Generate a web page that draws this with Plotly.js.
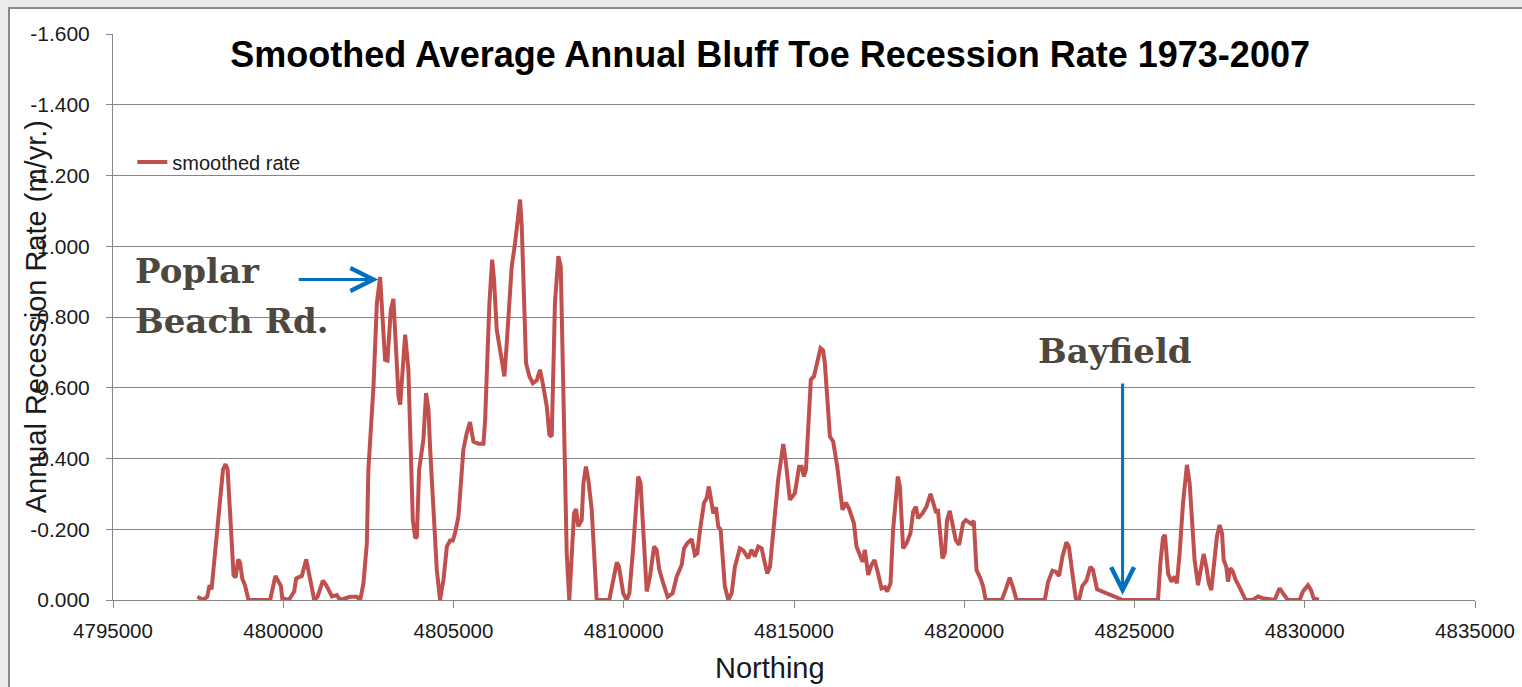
<!DOCTYPE html>
<html>
<head>
<meta charset="utf-8">
<script src="https://cdn.plot.ly/plotly-3.0.1.min.js"></script>
<style>
  html, body { margin:0; padding:0; width:1522px; height:687px; overflow:hidden; background:#ebebeb; }
  #frame { position:absolute; left:8px; top:7px; width:1600px; height:720px; background:#ffffff;
           border-left:2px solid #8a8a8a; border-top:2px solid #8a8a8a; }
  #chart { position:absolute; left:0; top:0; width:1522px; height:687px; }
</style>
</head>
<body>
<div id="frame"></div>
<div id="chart"></div>
<script>
// Northing (m) of each smoothed point
const northing = [
 4797480, 4797660, 4797770, 4797835, 4797895, 4798150, 4798230, 4798305, 4798365, 4798445,
 4798540, 4798600, 4798680, 4798735, 4798795, 4798875, 4798980, 4799615, 4799770, 4799930,
 4799970, 4800165, 4800320, 4800380, 4800545, 4800675, 4800770, 4800910, 4801005, 4801165,
 4801260, 4801430, 4801575, 4801670, 4801965, 4802160, 4802260, 4802355, 4802455, 4802500,
 4802650, 4802750, 4802845, 4802925, 4802990, 4803060, 4803160, 4803235, 4803315, 4803385,
 4803435, 4803480, 4803580, 4803675, 4803745, 4803805, 4803875, 4803925, 4803990, 4804115,
 4804195, 4804265, 4804315, 4804410, 4804510, 4804605, 4804705, 4804805, 4804900, 4804980,
 4805045, 4805145, 4805215, 4805290, 4805390, 4805485, 4805585, 4805730, 4805880, 4805930,
 4805975, 4806055, 4806135, 4806190, 4806270, 4806370, 4806495, 4806565, 4806710, 4806810,
 4806905, 4806955, 4807005, 4807070, 4807130, 4807230, 4807330, 4807445, 4807540, 4807620,
 4807740, 4807815, 4807885, 4807980, 4808080, 4808150, 4808210, 4808285, 4808325, 4808400,
 4808470, 4808540, 4808600, 4808665, 4808765, 4808815, 4808890, 4808960, 4809060, 4809155,
 4809205, 4809575, 4809695, 4809795, 4809860, 4809985, 4810085, 4810165, 4810280, 4810380,
 4810425, 4810495, 4810575, 4810675, 4810770, 4810890, 4810965, 4811045, 4811160, 4811290,
 4811435, 4811555, 4811700, 4811770, 4811865, 4811995, 4812090, 4812160, 4812240, 4812355,
 4812435, 4812500, 4812580, 4812630, 4812710, 4812775, 4812845, 4812970, 4813070, 4813170,
 4813265, 4813410, 4813510, 4813655, 4813755, 4813850, 4813950, 4814050, 4814145, 4814215,
 4814295, 4814390, 4814535, 4814685, 4814760, 4814880, 4814975, 4815025, 4815150, 4815225,
 4815290, 4815350, 4815415, 4815495, 4815585, 4815680, 4815780, 4815855, 4815905, 4815975,
 4816055, 4816150, 4816270, 4816425, 4816525, 4816620, 4816760, 4816835, 4816935, 4817015,
 4817080, 4817180, 4817275, 4817365, 4817470, 4817570, 4817670, 4817735, 4817835, 4817910,
 4818050, 4818110, 4818205, 4818305, 4818420, 4818500, 4818580, 4818645, 4818775, 4818890,
 4819010, 4819085, 4819165, 4819230, 4819305, 4819360, 4819430, 4819495, 4819575, 4819655,
 4819750, 4819850, 4819965, 4820045, 4820140, 4820215, 4820280, 4820360, 4820475, 4820555,
 4820630, 4821100, 4821220, 4821335, 4821435, 4821535, 4822365, 4822460, 4822590, 4822690,
 4822785, 4822885, 4823000, 4823075, 4823175, 4823275, 4823370, 4823470, 4823590, 4823705,
 4823780, 4823900, 4824660, 4825690, 4825760, 4825835, 4825895, 4825985, 4826085, 4826180,
 4826245, 4826325, 4826425, 4826540, 4826620, 4826700, 4826765, 4826865, 4826965, 4827030,
 4827110, 4827185, 4827255, 4827355, 4827420, 4827500, 4827570, 4827620, 4827695, 4827745,
 4827815, 4827890, 4827970, 4828065, 4828165, 4828265, 4828470, 4828625, 4828765, 4829115,
 4829260, 4829410, 4829500, 4829850, 4829945, 4830095, 4830185, 4830260, 4830415
];

// Smoothed annual recession rate (m/yr.), negative = recession
const smoothedRate = [
 -0.009, 0, -0.01, -0.042, -0.03, -0.29, -0.368, -0.384, -0.37, -0.236,
 -0.071, -0.064, -0.115, -0.105, -0.061, -0.042, 0, 0, -0.068, -0.04,
 -0.005, 0, -0.024, -0.061, -0.068, -0.115, -0.066, 0, -0.009, -0.055,
 -0.042, -0.01, -0.014, 0, -0.009, -0.009, 0, -0.047, -0.16, -0.368,
 -0.604, -0.84, -0.913, -0.79, -0.679, -0.677, -0.821, -0.851, -0.727, -0.575,
 -0.552, -0.613, -0.75, -0.651, -0.377, -0.226, -0.175, -0.179, -0.368, -0.453,
 -0.585, -0.538, -0.425, -0.255, -0.085, 0, -0.057, -0.151, -0.168, -0.168,
 -0.189, -0.236, -0.321, -0.425, -0.472, -0.503, -0.448, -0.442, -0.442, -0.51,
 -0.632, -0.84, -0.962, -0.906, -0.764, -0.708, -0.632, -0.727, -0.943, -1.01,
 -1.104, -1.132, -1.057, -0.84, -0.67, -0.632, -0.613, -0.621, -0.651, -0.613,
 -0.547, -0.467, -0.462, -0.84, -0.972, -0.943, -0.651, -0.368, -0.132, 0,
 -0.113, -0.245, -0.257, -0.208, -0.226, -0.33, -0.377, -0.34, -0.255, -0.057,
 0, 0, -0.057, -0.106, -0.094, -0.019, 0, -0.019, -0.151, -0.311,
 -0.349, -0.33, -0.208, -0.024, -0.066, -0.151, -0.142, -0.085, -0.047, -0.009,
 -0.019, -0.066, -0.099, -0.146, -0.16, -0.172, -0.127, -0.132, -0.198, -0.274,
 -0.288, -0.321, -0.274, -0.245, -0.262, -0.208, -0.198, -0.038, 0, -0.019,
 -0.094, -0.146, -0.14, -0.118, -0.142, -0.123, -0.151, -0.146, -0.104, -0.075,
 -0.094, -0.198, -0.34, -0.441, -0.39, -0.283, -0.297, -0.302, -0.377, -0.377,
 -0.349, -0.368, -0.481, -0.623, -0.632, -0.67, -0.712, -0.706, -0.67, -0.575,
 -0.462, -0.448, -0.377, -0.255, -0.275, -0.257, -0.217, -0.151, -0.13, -0.108,
 -0.142, -0.071, -0.099, -0.113, -0.075, -0.033, -0.036, -0.024, -0.047, -0.198,
 -0.349, -0.321, -0.146, -0.16, -0.189, -0.25, -0.264, -0.231, -0.245, -0.264,
 -0.3, -0.274, -0.25, -0.252, -0.16, -0.118, -0.132, -0.226, -0.252, -0.212,
 -0.17, -0.156, -0.217, -0.226, -0.219, -0.215, -0.224, -0.085, -0.061, -0.038,
 0, 0, -0.03, -0.063, -0.035, 0, 0, -0.05, -0.083, -0.08,
 -0.068, -0.123, -0.163, -0.15, -0.075, -0.005, 0, -0.04, -0.055, -0.094,
 -0.085, -0.03, 0, 0, -0.104, -0.175, -0.184, -0.075, -0.052, -0.066,
 -0.047, -0.132, -0.274, -0.382, -0.33, -0.226, -0.113, -0.042, -0.104, -0.13,
 -0.094, -0.047, -0.028, -0.113, -0.179, -0.212, -0.189, -0.113, -0.094, -0.052,
 -0.09, -0.08, -0.057, -0.04, -0.019, 0, 0, -0.01, -0.005, 0,
 -0.033, -0.01, 0, 0, -0.024, -0.042, -0.028, -0.005, 0
];

const xTickVals = [4795000, 4800000, 4805000, 4810000, 4815000, 4820000, 4825000, 4830000, 4835000];
const xTickText = ['4795000', '4800000', '4805000', '4810000', '4815000', '4820000', '4825000', '4830000', '4835000'];
const yTickVals = [0, -0.2, -0.4, -0.6, -0.8, -1.0, -1.2, -1.4, -1.6];
const yTickText = ['0.000', '-0.200', '-0.400', '-0.600', '-0.800', '-1.000', '-1.200', '-1.400', '-1.600'];

const seriesName = 'smoothed rate';
const chartTitle = 'Smoothed Average Annual Bluff Toe Recession Rate 1973-2007';
const xTitle = 'Northing';
const yTitle = 'Annual Recession Rate (m/yr.)';

// Annotation anchors (data units)
const poplarPoint = {x: 4802790, y: -0.906};
const bayfieldPoint = {x: 4824650, y: -0.014};

const sans = 'Liberation Sans, Arial, sans-serif';
const serif = 'DejaVu Serif, serif';
const labelColor = '#4d473f';
const arrowBlue = '#0070c0';
const axisGray = '#868686';

const trace = {
  x: northing,
  y: smoothedRate,
  type: 'scatter',
  mode: 'lines',
  name: seriesName,
  line: {color: '#c0504d', width: 4}
};

const layout = {
  width: 1522,
  height: 687,
  margin: {l: 113, r: 47, t: 34, b: 87},
  paper_bgcolor: 'rgba(0,0,0,0)',
  plot_bgcolor: 'rgba(0,0,0,0)',
  title: {
    text: '<b>' + chartTitle + '</b>',
    font: {family: sans, size: 36, color: '#000000'},
    xref: 'container', x: 0.506, xanchor: 'center',
    yref: 'container', y: 0.921, yanchor: 'middle'
  },
  showlegend: true,
  legend: {
    x: 0.0142, xanchor: 'left', y: 0.774, yanchor: 'middle',
    bgcolor: 'rgba(0,0,0,0)',
    font: {family: sans, size: 20, color: '#1a1a1a'}
  },
  xaxis: {
    range: [4795000, 4835000],
    tickmode: 'array', tickvals: xTickVals, ticktext: xTickText,
    ticks: 'outside', ticklen: 7, tickwidth: 1, tickcolor: axisGray,
    showline: true, linecolor: axisGray, linewidth: 1,
    showgrid: false, zeroline: false,
    tickfont: {family: sans, size: 20.5, color: '#1a1a1a'},
    ticklabelstandoff: 5
  },
  yaxis: {
    range: [0, -1.6],
    tickmode: 'array', tickvals: yTickVals, ticktext: yTickText,
    ticks: 'outside', ticklen: 6, tickwidth: 1, tickcolor: axisGray,
    showline: true, linecolor: axisGray, linewidth: 1,
    showgrid: true, gridcolor: axisGray, gridwidth: 1,
    zeroline: false,
    tickfont: {family: sans, size: 21, color: '#1a1a1a'},
    ticklabelstandoff: 12
  },
  annotations: [
    {text: yTitle, xref: 'paper', yref: 'paper', x: -0.0563, y: 0.5, textangle: -90,
     showarrow: false, xanchor: 'center', yanchor: 'middle',
     font: {family: sans, size: 29, color: '#1a1a1a'}},
    {text: xTitle, xref: 'paper', yref: 'paper', x: 0.4825, y: -0.120,
     showarrow: false, xanchor: 'center', yanchor: 'middle',
     font: {family: sans, size: 29, color: '#1a1a1a'}},
    {text: '<b>Poplar</b>', xref: 'paper', yref: 'paper', x: 0.0150, y: 0.581,
     showarrow: false, xanchor: 'left', yanchor: 'middle',
     font: {family: serif, size: 34, color: labelColor}},
    {text: '<b>Beach Rd.</b>', xref: 'paper', yref: 'paper', x: 0.0150, y: 0.493,
     showarrow: false, xanchor: 'left', yanchor: 'middle',
     font: {family: serif, size: 34, color: labelColor}},
    {text: '<b>Bayfield</b>', xref: 'paper', yref: 'paper', x: 0.678, y: 0.44,
     showarrow: false, xanchor: 'left', yanchor: 'middle',
     font: {family: serif, size: 34, color: labelColor}},
    {text: '', x: poplarPoint.x, y: poplarPoint.y, xref: 'x', yref: 'y',
     showarrow: true, ax: -81, ay: 0, arrowhead: 5, arrowsize: 1.5, arrowwidth: 3,
     arrowcolor: arrowBlue, standoff: 0},
    {text: '', x: bayfieldPoint.x, y: bayfieldPoint.y, xref: 'x', yref: 'y',
     showarrow: true, ax: 0, ay: -213, arrowhead: 5, arrowsize: 1.5, arrowwidth: 3,
     arrowcolor: arrowBlue, standoff: 0}
  ]
};

Plotly.newPlot('chart', [trace], layout, {displayModeBar: false, staticPlot: true});
</script>
</body>
</html>
